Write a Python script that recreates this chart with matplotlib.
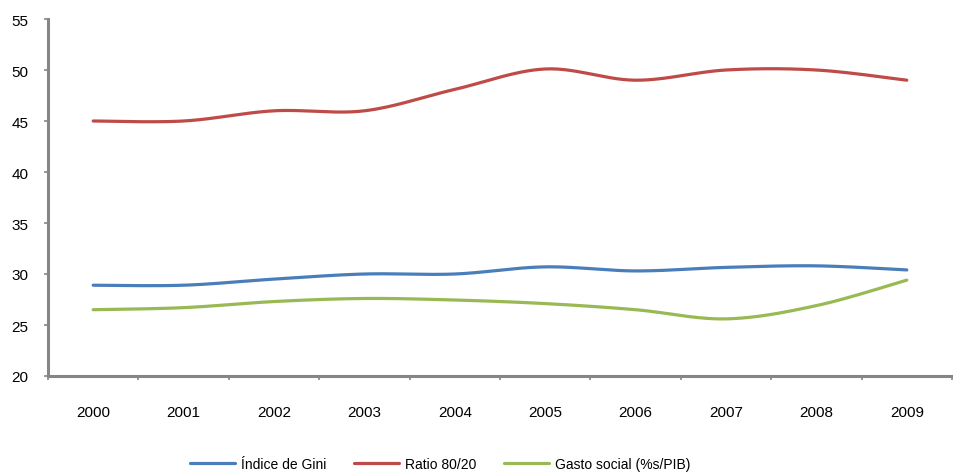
import numpy as np
import matplotlib.pyplot as plt

plt.rcParams['font.family'] = ['Liberation Sans', 'DejaVu Sans']

anios = ['2000', '2001', '2002', '2003', '2004', '2005', '2006', '2007', '2008', '2009']
indice_gini = [28.9, 28.9, 29.5, 30.0, 30.0, 30.7, 30.3, 30.65, 30.8, 30.4]
ratio_80_20 = [45.0, 45.0, 46.0, 46.0, 48.1, 50.1, 49.0, 50.0, 50.0, 49.0]
gasto_social = [26.5, 26.7, 27.3, 27.6, 27.45, 27.1, 26.5, 25.6, 26.9, 29.4]

colores = ['#4A7EBB', '#BE4B48', '#98B954']
etiquetas = ['Índice de Gini', 'Ratio 80/20', 'Gasto social (%s/PIB)']


def suavizar(y, pasos=30):
    # curva tipo Excel: bezier con puntos de control Catmull-Rom
    y = np.asarray(y, dtype=float)
    x = np.arange(len(y), dtype=float)
    xs, ys = [], []
    for i in range(len(y) - 1):
        x0, y0 = (x[i - 1], y[i - 1]) if i > 0 else (x[i], y[i])
        x3, y3 = (x[i + 2], y[i + 2]) if i + 2 < len(y) else (x[i + 1], y[i + 1])
        x1, y1 = x[i], y[i]
        x2, y2 = x[i + 1], y[i + 1]
        c1x, c1y = x1 + (x2 - x0) / 6, y1 + (y2 - y0) / 6
        c2x, c2y = x2 - (x3 - x1) / 6, y2 - (y3 - y1) / 6
        t = np.linspace(0, 1, pasos)
        bx = (1 - t)**3 * x1 + 3 * (1 - t)**2 * t * c1x + 3 * (1 - t) * t**2 * c2x + t**3 * x2
        by = (1 - t)**3 * y1 + 3 * (1 - t)**2 * t * c1y + 3 * (1 - t) * t**2 * c2y + t**3 * y2
        xs.extend(bx)
        ys.extend(by)
    return np.array(xs), np.array(ys)


fig = plt.figure(figsize=(9.54, 4.77), dpi=100)
ax = fig.add_axes([48 / 954, 1 - 377 / 477, (952 - 48) / 954, (377 - 20) / 477])

for serie, color, etiqueta in zip([indice_gini, ratio_80_20, gasto_social], colores, etiquetas):
    xs, ys = suavizar(serie)
    ax.plot(xs, ys, color=color, linewidth=2.3, label=etiqueta, solid_capstyle='round')

ax.set_xlim(-0.5, len(anios) - 0.5)
ax.set_ylim(20, 55)
ax.set_yticks(np.arange(20, 56, 5))
ax.set_xticks(range(len(anios)))
ax.set_xticklabels(anios)
ax.set_xticks(np.arange(-0.5, len(anios), 1), minor=True)

for lado in ['top', 'right']:
    ax.spines[lado].set_visible(False)
for lado in ['left', 'bottom']:
    ax.spines[lado].set_color('#868686')
    ax.spines[lado].set_linewidth(2.2)

ax.tick_params(axis='y', direction='out', length=3, width=1.2, color='#868686',
               labelsize=11, pad=11)
ax.tick_params(axis='x', which='major', length=0, labelsize=11, pad=21)
ax.tick_params(axis='x', which='minor', direction='out', length=3, width=1.2, color='#868686')

fig.legend(loc='center', bbox_to_anchor=(440 / 954, 1 - 465 / 477), ncol=3, frameon=False,
           fontsize=10, handlelength=3.25, handletextpad=0.4, columnspacing=2.0)

fig.savefig('out.png', dpi=100)
